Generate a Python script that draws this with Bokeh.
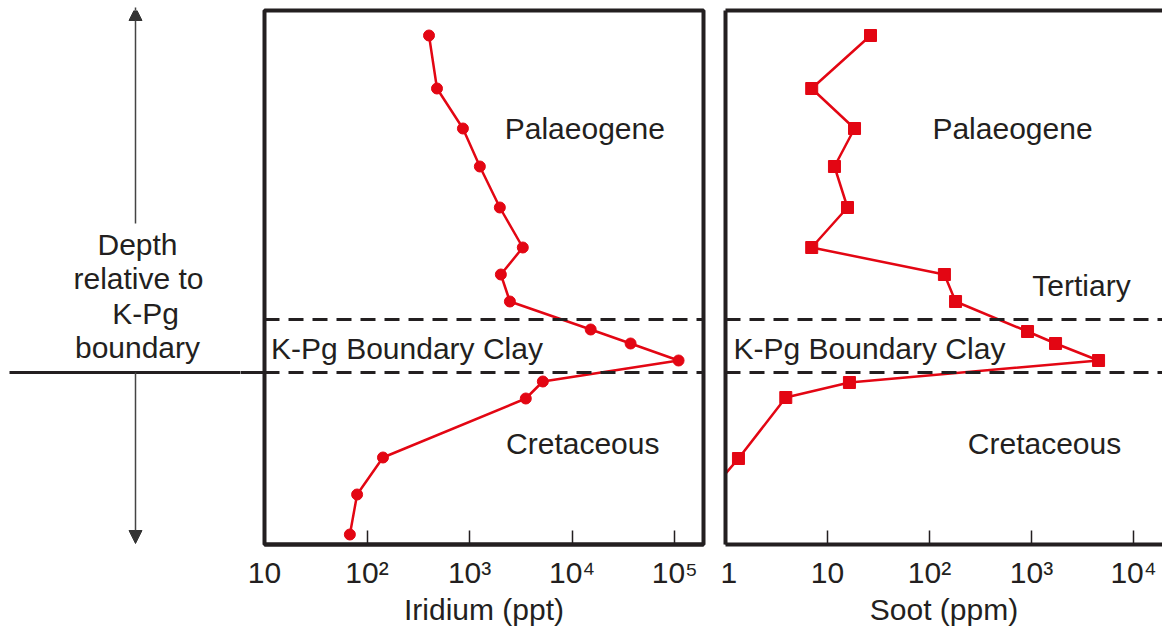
from bokeh.plotting import figure
from bokeh.layouts import row
from bokeh.models import Range1d, FixedTicker, Span, Label, Arrow, NormalHead, LinearAxis
from bokeh.embed import file_html
from bokeh.resources import INLINE

# ---- data (depth relative to the K-Pg boundary, arbitrary units, + = above) ----
ir_depth = [33.7, 28.4, 24.4, 20.6, 16.5, 12.5, 9.8, 7.1, 4.3, 2.9, 1.2, -0.9, -2.6, -8.5, -12.2, -16.2]
ir_ppt = [402, 481, 861, 1259, 1972, 3303, 2018, 2472, 15170, 37150, 109100, 5180, 3532, 143, 80, 68]

soot_depth = [33.7, 28.4, 24.4, 20.6, 16.5, 12.5, 9.8, 7.1, 4.1, 2.9, 1.2, -1.0, -2.5, -8.6, -12.2]
soot_ppm = [26.4, 7.0, 18.4, 11.7, 15.7, 7.0, 140, 180, 914, 1720, 4540, 16.4, 3.9, 1.34, 0.67]

clay_top = 5.3
clay_base = 0.0

ir_ticks = [10, 100, 1000, 10000, 100000]
ir_tick_labels = ["10", "10²", "10³", "10⁴", "10⁵"]
soot_ticks = [1, 10, 100, 1000, 10000]
soot_tick_labels = ["1", "10", "10²", "10³", "10⁴"]

FONT = "Liberation Sans"
TXT = "#231f20"
RED = "#e30613"
FS = "30px"

Y0, Y1 = -17.2, 36.2


def style_xaxis(p, ticks, labels, title):
    ax = p.xaxis[0]
    ax.ticker = FixedTicker(ticks=ticks)
    ax.major_label_overrides = {t: l for t, l in zip(ticks, labels)}
    ax.minor_tick_line_color = None
    ax.major_tick_in = 14
    ax.major_tick_out = 0
    ax.major_tick_line_width = 1.5
    ax.major_tick_line_color = TXT
    ax.axis_line_width = 4
    ax.axis_line_color = TXT
    ax.major_label_text_font = FONT
    ax.major_label_text_font_size = FS
    ax.major_label_text_color = TXT
    ax.major_label_standoff = 11
    ax.axis_label = title
    ax.axis_label_text_font = FONT
    ax.axis_label_text_font_size = FS
    ax.axis_label_text_font_style = "normal"
    ax.axis_label_text_color = TXT
    ax.axis_label_standoff = 1


def border_axis(ax):
    ax.ticker = FixedTicker(ticks=[])
    ax.major_tick_line_color = None
    ax.minor_tick_line_color = None
    ax.major_label_standoff = 0
    ax.major_tick_out = 0
    ax.major_tick_in = 0
    ax.axis_line_width = 4
    ax.axis_line_color = TXT


def add_label(p, x, y, text, align="center"):
    p.add_layout(Label(x=x, y=y, text=text, text_font=FONT, text_font_size=FS,
                       text_color=TXT, text_align=align, text_baseline="middle"))


def add_bounds(p):
    for loc in (clay_top, clay_base):
        p.add_layout(Span(location=loc, dimension="width", line_color=TXT,
                          line_width=3, line_dash="15 9"))


# ---- left annotation panel ----
p0 = figure(x_range=Range1d(0, 240), y_range=Range1d(Y0, Y1),
            frame_width=240, frame_height=534, min_border_left=0, min_border_right=0,
            min_border_top=10, min_border_bottom=82,
            x_axis_location=None, y_axis_location=None,
            outline_line_color=None, toolbar_location=None, output_backend="svg")
p0.grid.visible = False
p0.segment(x0=[9], y0=[0], x1=[240], y1=[0], line_color=TXT, line_width=3)
p0.add_layout(Arrow(end=NormalHead(size=13, fill_color="#333333", line_color="#333333"),
                    x_start=135, y_start=14.9, x_end=135, y_end=36.5,
                    line_color="#444444", line_width=1.5))
p0.add_layout(Arrow(end=NormalHead(size=13, fill_color="#333333", line_color="#333333"),
                    x_start=135, y_start=0, x_end=135, y_end=-17.1,
                    line_color="#444444", line_width=1.5))
for txt, xx, yy in [("Depth", 137, 12.8), ("relative to", 138, 9.4),
                    ("K-Pg", 145, 5.9), ("boundary", 137, 2.5)]:
    add_label(p0, xx, yy, txt)

# ---- iridium panel ----
p1 = figure(x_axis_type="log", x_range=Range1d(10, 10 ** 5.281), y_range=Range1d(Y0, Y1),
            frame_width=439, frame_height=534, min_border_left=24, min_border_right=17,
            min_border_top=10, min_border_bottom=82, y_axis_location=None,
            toolbar_location=None, output_backend="svg")
p1.grid.visible = False
p1.outline_line_color = TXT
p1.outline_line_width = 4
p1.outline_line_alpha = 1
style_xaxis(p1, ir_ticks, ir_tick_labels, "Iridium (ppt)")
# continuation of the solid boundary line: a single outward tick at depth 0
yax = LinearAxis(ticker=FixedTicker(ticks=[clay_base]), major_label_overrides={0: ""},
                 major_tick_out=24, major_tick_in=0, major_tick_line_width=3,
                 major_tick_line_color=TXT, minor_tick_line_color=None,
                 axis_line_color=None, major_label_standoff=0)
p1.add_layout(yax, "left")
add_bounds(p1)
p1.line(ir_ppt, ir_depth, line_color=RED, line_width=2.5)
p1.scatter(ir_ppt, ir_depth, marker="circle", size=11, fill_color=RED, line_color=RED)
add_label(p1, 1.33e4, 24.4, "Palaeogene")
add_label(p1, 11.6, 2.4, "K-Pg Boundary Clay", align="left")
add_label(p1, 1.27e4, -7.1, "Cretaceous")

# ---- soot panel ----
p2 = figure(x_axis_type="log", x_range=Range1d(1, 10 ** 4.284), y_range=Range1d(Y0, Y1),
            frame_width=437, frame_height=534, min_border_left=5, min_border_right=0,
            min_border_top=10, min_border_bottom=82,
            toolbar_location=None, output_backend="svg")
p2.grid.visible = False
p2.outline_line_color = None
style_xaxis(p2, soot_ticks, soot_tick_labels, "Soot (ppm)")
border_axis(p2.yaxis[0])
top = LinearAxis()
border_axis(top)
p2.add_layout(top, "above")
add_bounds(p2)
p2.line(soot_ppm, soot_depth, line_color=RED, line_width=2.5)
p2.scatter(soot_ppm, soot_depth, marker="square", size=12, fill_color=RED, line_color=RED)
add_label(p2, 651, 24.4, "Palaeogene")
add_label(p2, 3090, 8.7, "Tertiary")
add_label(p2, 1.2, 2.4, "K-Pg Boundary Clay", align="left")
add_label(p2, 1341, -7.1, "Cretaceous")

layout = row(p0, p1, p2, spacing=0)
open("out.html", "w").write(file_html(layout, INLINE))
